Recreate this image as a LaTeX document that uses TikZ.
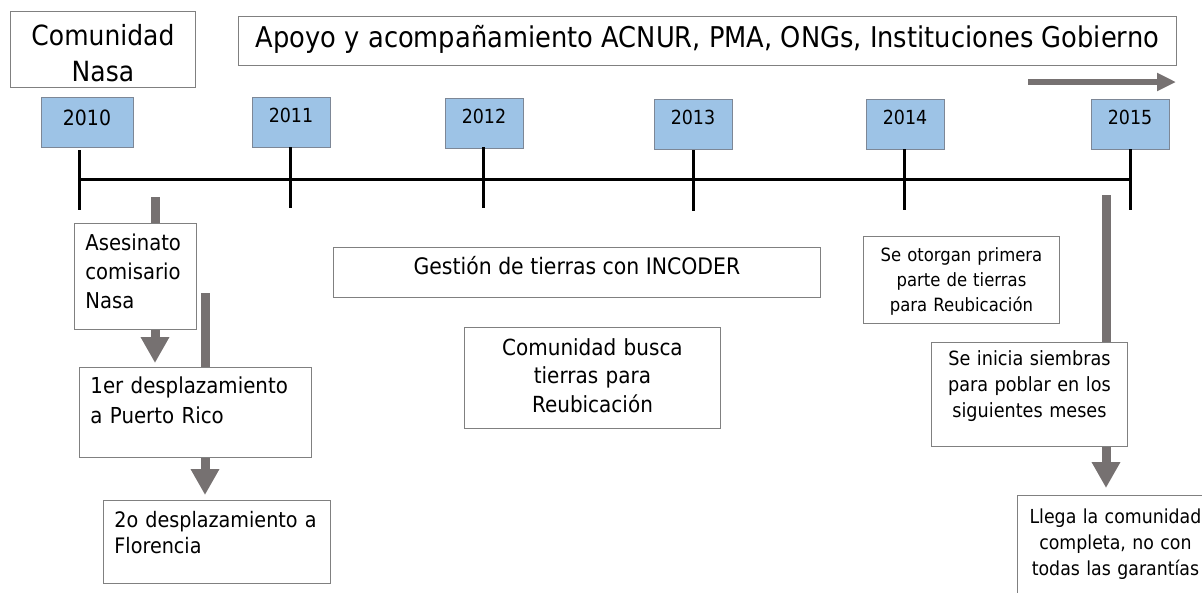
\documentclass[tikz,border=0pt]{standalone}
\usepackage{fontspec}
\setmainfont{DejaVu Sans}[FakeStretch=0.9]
\usepackage{xcolor}
\usetikzlibrary{arrows.meta,backgrounds}

\definecolor{grisflecha}{RGB}{118,113,113}
\definecolor{azulanio}{RGB}{157,195,230}
\definecolor{bordeanio}{RGB}{125,135,150}
\definecolor{bordecaja}{RGB}{128,128,128}

\newcommand{\fs}[2]{\fontsize{#1}{#2}\selectfont}

\begin{document}
\begin{tikzpicture}[x=1pt,y=-1pt,
            caja/.style={draw=bordecaja,fill=white,line width=0.9pt,inner ysep=0pt,anchor=north west},
            anio/.style={draw=bordeanio,fill=azulanio,line width=0.9pt,inner sep=0pt,anchor=north,
                minimum width=78pt,text height=25pt,text depth=25pt,font=\fs{19.4}{22}},
            eje/.style={line width=3pt},
            flecha/.style={draw=grisflecha,line width=9pt,-{Triangle[width=27pt,length=26pt]}}]

            \useasboundingbox (0,0) rectangle (1202,592);

            \node[caja,inner xsep=0pt,text width=185pt,text height=34pt,text depth=42pt,align=center,font=\fs{27.8}{36}]
                (nasa) at (10,11) {Comunidad\\Nasa};
            \node[caja,minimum width=938pt,text height=31pt,text depth=18pt,font=\fs{28.6}{32}]
                (apoyo) at (238,16) {Apoyo y acompañamiento ACNUR, PMA, ONGs, Instituciones Gobierno};
            \coordinate (apoyoini) at (1028,82);
            \coordinate (apoyofin) at (1176,82);
            \draw[draw=grisflecha,line width=6pt,-{Triangle[width=17pt,length=19pt]}] (apoyoini) -- (apoyofin);

            \node[anio,minimum width=92pt,text height=28pt,text depth=22pt,font=\fs{21}{22}] (a2010) at (87,97) {2010};
            \node[anio] (a2011) at (291,97) {2011};
            \node[anio] (a2012) at (484,98) {2012};
            \node[anio] (a2013) at (693,99) {2013};
            \node[anio] (a2014) at (905,99) {2014};
            \node[anio] (a2015) at (1130,99) {2015};

            \draw[eje] (79,179) -- (1130,179);
            \foreach \x/\a/\b in {79/150/210, 290/147/208, 483/147/208, 693/150/211, 904/149/210, 1130/149/210}
                \draw[eje] (\x,\a) -- (\x,\b);

            \node[caja,inner xsep=11pt,text width=100pt,text height=27pt,text depth=79pt,align=left,font=\fs{21.8}{29}]
                (asesinato) at (74,223) {Asesinato\\comisario\\Nasa};
            \node[caja,inner xsep=11pt,text width=210pt,text height=26pt,text depth=64pt,align=left,font=\fs{22}{30}]
                (desp1) at (79,367) {1er desplazamiento\\a Puerto Rico};
            \node[caja,inner xsep=11pt,text width=205pt,text height=27pt,text depth=56pt,align=left,font=\fs{21.3}{26}]
                (desp2) at (103,500) {2o desplazamiento a\\Florencia};

            \node[caja,minimum width=487pt,text height=27pt,text depth=23pt,font=\fs{22.7}{26}]
                (gestion) at (333,247) {Gestión de tierras con INCODER};
            \node[caja,inner xsep=0pt,text width=256pt,text height=28pt,text depth=73pt,align=center,font=\fs{22.2}{28.5}]
                (busca) at (464,327) {Comunidad busca\\tierras para\\Reubicación};

            \node[caja,inner xsep=0pt,text width=196pt,text height=25pt,text depth=62pt,align=center,font=\fs{18.3}{25}]
                (otorgan) at (863,236) {Se otorgan primera\\parte de tierras\\para Reubicación};
            \node[caja,inner xsep=0pt,text width=196pt,text height=23pt,text depth=81pt,align=center,font=\fs{19.6}{26}]
                (siembras) at (931,342) {Se inicia siembras\\para poblar en los\\siguientes meses};
            \node[caja,inner xsep=0pt,text width=196pt,text height=28pt,text depth=76pt,align=center,font=\fs{19.3}{26}]
                (llega) at (1017,495) {Llega la comunidad\\completa, no con\\todas las garantías};

            \coordinate (f1) at (155,197);
            \coordinate (f2) at (205,293);
            \coordinate (f3) at (1106,195);
            \begin{scope}[on background layer]
                \draw[flecha,shorten >=4pt] (f1) -- (f1 |- desp1.north);
                \draw[flecha,shorten >=5pt] (f2) -- (f2 |- desp2.north);
                \draw[flecha,shorten >=7pt] (f3) -- (f3 |- llega.north);
            \end{scope}
        \end{tikzpicture}
\end{document}
